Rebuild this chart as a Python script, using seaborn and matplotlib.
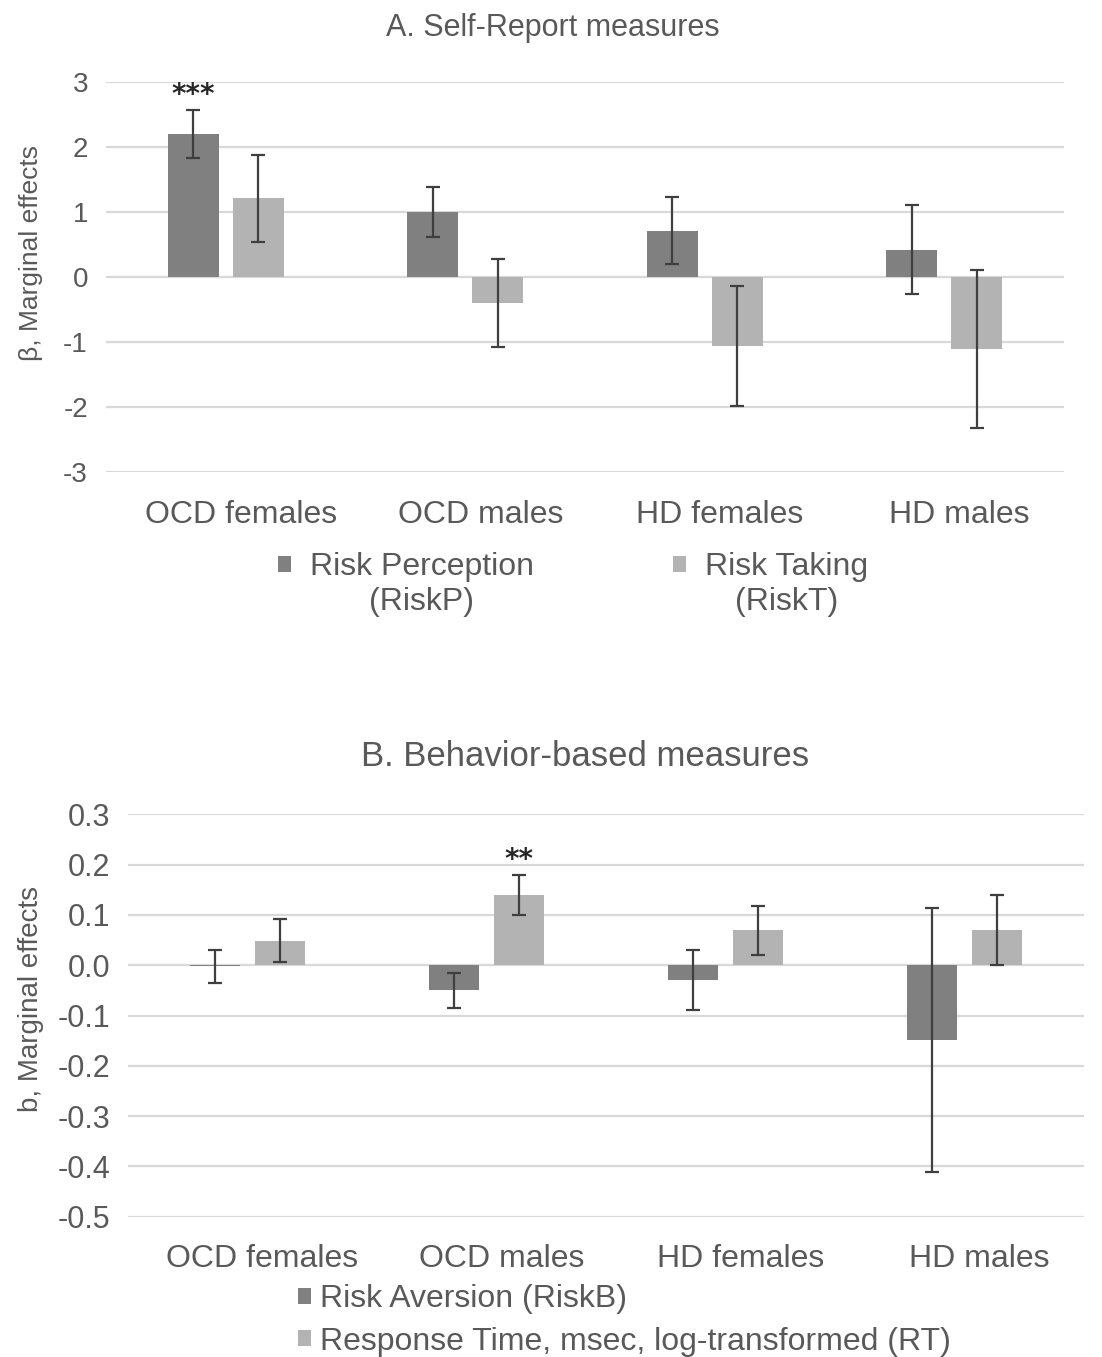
import numpy as np
import pandas as pd
import matplotlib
matplotlib.use("Agg")
import matplotlib.pyplot as plt
import matplotlib.transforms as mtrans
from matplotlib.patches import Patch
import seaborn as sns

# ---- data ----
groups = ["OCD females", "OCD males", "HD females", "HD males"]

# A. self-report measures
self_names = ["Risk Perception", "Risk Taking"]
self_names_2nd = ["(RiskP)", "(RiskT)"]
riskp = [2.19, 0.99, 0.71, 0.42]
riskp_err = [0.37, 0.385, 0.51, 0.69]
riskt = [1.21, -0.40, -1.065, -1.115]
riskt_err = [0.67, 0.675, 0.925, 1.215]
yticks_a = [-3, -2, -1, 0, 1, 2, 3]

# B. behavior-based measures
behav_names = ["Risk Aversion (RiskB)", "Response Time, msec, log-transformed (RT)"]
riskb = [-0.002, -0.050, -0.030, -0.149]
riskb_err = [0.033, 0.035, 0.060, 0.262]
rt = [0.049, 0.139, 0.069, 0.070]
rt_err = [0.042, 0.040, 0.048, 0.070]
yticks_b = [-0.5, -0.4, -0.3, -0.2, -0.1, 0.0, 0.1, 0.2, 0.3]

# significance marks: (group, series index, label)
stars_a = [("OCD females", 0, "***")]
stars_b = [("OCD males", 1, "**")]

dark = "#808080"
light = "#b3b3b3"
txt = "#595959"
grid_c = "#d9d9d9"

sns.set_theme(style="white")
plt.rcParams["font.family"] = ["Liberation Sans", "DejaVu Sans"]
plt.rcParams["axes.unicode_minus"] = False

W, H = 1102, 1357
fig = plt.figure(figsize=(W / 100, H / 100), dpi=100)
ax1 = fig.add_axes([106 / W, 1 - 472 / H, (1064 - 106) / W, 390.3 / H])
ax2 = fig.add_axes([128 / W, 1 - 1216.7 / H, (1084 - 128) / W, 402.4 / H])


def panel(ax, names, vals, errs, yticks, fmt, ylabel, tick_fs, ylab_fs, ylab_y, stars):
    df = pd.DataFrame({
        "group": groups * 2,
        "measure": [names[0]] * 4 + [names[1]] * 4,
        "value": list(vals[0]) + list(vals[1]),
    })
    sns.barplot(data=df, x="group", y="value", hue="measure", order=groups,
                hue_order=names, palette=[dark, light], saturation=1,
                width=0.545, gap=0.22, errorbar=None, legend=False,
                linewidth=0, ax=ax, zorder=2)
    centers = []
    for cont, v, e in zip(ax.containers, vals, errs):
        xs = [b.get_x() + b.get_width() / 2 for b in cont]
        centers.append(xs)
        ax.errorbar(xs, v, yerr=e, fmt="none", ecolor="#3f3f3f",
                    elinewidth=1.6, capsize=5, capthick=1.6, zorder=3)
    for g, s, lab in stars:
        i = groups.index(g)
        top = vals[s][i] + errs[s][i]
        ax.annotate(lab, xy=(centers[s][i], top), xytext=(0, 1),
                    textcoords="offset points", ha="center", va="bottom",
                    fontsize=20, fontweight="bold", color="#262626",
                    family="DejaVu Sans")
    ax.set_xlim(-0.5, len(groups) - 0.5)
    ax.set_ylim(yticks[0], yticks[-1])
    ax.set_yticks(yticks)
    ax.set_yticklabels([fmt.format(t) for t in yticks])
    ax.yaxis.grid(True, color=grid_c, linewidth=1.6, zorder=0)
    ax.xaxis.grid(False)
    ax.set_axisbelow(True)
    for sp in ax.spines.values():
        sp.set_visible(False)
    ax.tick_params(axis="y", length=0, pad=13, labelsize=tick_fs, labelcolor=txt)
    ax.tick_params(axis="x", length=0, pad=20, labelsize=23, labelcolor=txt)
    # category labels sit a little right of the bar pairs in the original
    shift = mtrans.ScaledTranslation(15 / 100, 0, fig.dpi_scale_trans)
    for lab in ax.get_xticklabels():
        lab.set_transform(lab.get_transform() + shift)
    ax.set_xlabel("")
    ax.set_ylabel(ylabel, fontsize=ylab_fs, color=txt)
    ax.yaxis.set_label_coords(ylab_y[0], ylab_y[1])


panel(ax1, self_names, [riskp, riskt], [riskp_err, riskt_err], yticks_a,
      "{:.0f}", "β, Marginal effects", 20, 19, (-0.066, 0.56), stars_a)
panel(ax2, behav_names, [riskb, rt], [riskb_err, rt_err], yticks_b,
      "{:.1f}", "b, Marginal effects", 22, 20, (-0.088, 0.54), stars_b)

fig.text(553 / W, 1 - 28 / H, "A. Self-Report measures", ha="center",
         va="center", fontsize=22, color=txt)
fig.text(585 / W, 1 - 757 / H, "B. Behavior-based measures", ha="center",
         va="center", fontsize=25, color=txt)

handles = [Patch(facecolor=dark, edgecolor="none"), Patch(facecolor=light, edgecolor="none")]

leg1 = fig.legend(handles, self_names, loc="center left",
                  bbox_to_anchor=(278 / W, 1 - 567 / H), ncol=2, frameon=False,
                  fontsize=23, handlelength=0.4, handleheight=0.4,
                  handletextpad=0.6, columnspacing=4.35, borderpad=0,
                  borderaxespad=0, labelcolor=txt)
leg2 = fig.legend(handles, behav_names, loc="upper left",
                  bbox_to_anchor=(298 / W, 1 - 1284 / H), ncol=1, frameon=False,
                  fontsize=23, handlelength=0.4, handleheight=0.4,
                  handletextpad=0.3, labelspacing=0.4, borderpad=0,
                  borderaxespad=0, labelcolor=txt)

# second lines of the two-line legend labels in panel A
fig.canvas.draw()
for t, sub in zip(leg1.get_texts(), self_names_2nd):
    bb = t.get_window_extent()
    fig.text((bb.x0 + bb.x1) / 2 / W, (bb.y0 - 5) / H, sub, ha="center",
             va="top", fontsize=23, color=txt)

fig.savefig("out.png", dpi=100)
